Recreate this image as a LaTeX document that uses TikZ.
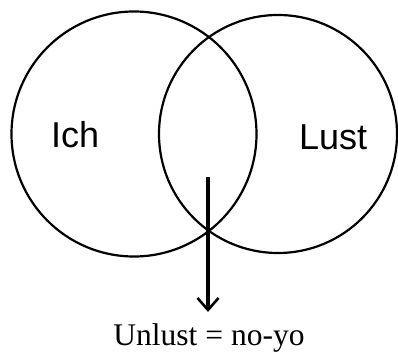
\documentclass[tikz,border=0pt]{standalone}
\usepackage{fontspec}
\setmainfont{Liberation Serif}
\newfontfamily\arialfont{Liberation Sans}
\usetikzlibrary{arrows.meta}

\begin{document}
\begin{tikzpicture}[x=1pt, y=1pt,
    kreis/.style={circle, draw, line width=2.2pt, inner sep=0pt},
    sans/.style={font=\arialfont\fontsize{36}{40}\selectfont, inner sep=0pt},
    unten/.style={font=\fontsize{31.5}{34}\selectfont, inner sep=2pt}]
  \useasboundingbox (0,0) rectangle (398,356);
  % die beiden Kreise
  \node[kreis, minimum size=245pt] (ichkreis)  at (134,222) {};
  \node[kreis, minimum size=238pt] (lustkreis) at (278,222) {};
  \node[sans, anchor=base west] (ich)  at (51,208) {Ich};
  \node[sans, anchor=base west] (lust) at (299,206) {Lust};
  \node[unten, anchor=base] (unlust) at (209,11) {Unlust = no-yo};
  % Pfeil aus der Schnittmenge
  \coordinate (start) at (208,179);
  \draw[-{Straight Barb[length=12pt,width=21pt,line width=2.6pt]}, line width=3.2pt, shorten >=9pt]
    (start) -- (start |- unlust.north);
\end{tikzpicture}
\end{document}
